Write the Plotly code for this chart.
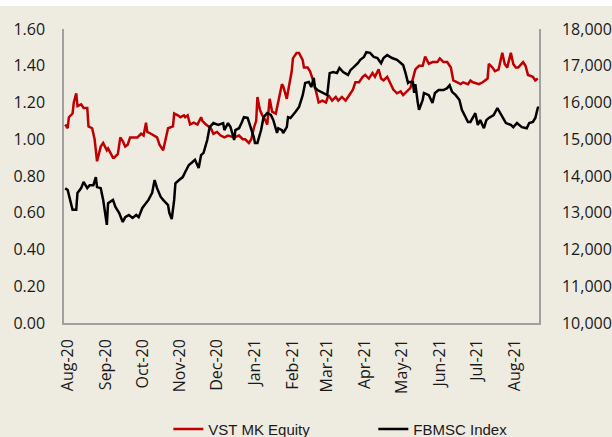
import plotly.graph_objects as go

# VST MK Equity (left axis)
vst_dates = [
    "2020-07-30", "2020-08-01", "2020-08-02", "2020-08-05", "2020-08-06", "2020-08-08", "2020-08-09",
    "2020-08-12", "2020-08-14", "2020-08-17", "2020-08-18", "2020-08-21", "2020-08-23", "2020-08-25",
    "2020-08-28", "2020-08-30", "2020-09-02", "2020-09-03", "2020-09-07", "2020-09-08", "2020-09-11",
    "2020-09-13", "2020-09-15", "2020-09-17", "2020-09-19", "2020-09-21", "2020-09-24", "2020-09-27",
    "2020-09-30", "2020-10-02", "2020-10-04", "2020-10-05", "2020-10-08", "2020-10-10", "2020-10-13",
    "2020-10-15", "2020-10-18", "2020-10-20", "2020-10-22", "2020-10-26", "2020-10-27", "2020-10-30",
    "2020-11-01", "2020-11-04", "2020-11-05", "2020-11-07", "2020-11-09", "2020-11-12", "2020-11-15",
    "2020-11-18", "2020-11-19", "2020-11-22", "2020-11-26", "2020-11-28", "2020-12-01", "2020-12-04",
    "2020-12-07", "2020-12-10", "2020-12-15", "2020-12-19", "2020-12-22", "2020-12-24", "2020-12-27",
    "2020-12-29", "2020-12-31", "2021-01-02", "2021-01-03", "2021-01-05", "2021-01-07", "2021-01-09",
    "2021-01-11", "2021-01-13", "2021-01-15", "2021-01-18", "2021-01-20", "2021-01-23", "2021-01-24",
    "2021-01-27", "2021-01-28", "2021-01-31", "2021-02-01", "2021-02-04", "2021-02-06", "2021-02-09",
    "2021-02-10", "2021-02-13", "2021-02-15", "2021-02-18", "2021-02-21", "2021-02-22", "2021-02-25",
    "2021-02-28", "2021-03-02", "2021-03-05", "2021-03-08", "2021-03-10", "2021-03-13", "2021-03-16",
    "2021-03-18", "2021-03-22", "2021-03-24", "2021-03-27", "2021-03-30", "2021-04-01", "2021-04-04",
    "2021-04-07", "2021-04-09", "2021-04-12", "2021-04-14", "2021-04-16", "2021-04-19", "2021-04-22",
    "2021-04-24", "2021-04-27", "2021-04-30", "2021-05-02", "2021-05-06", "2021-05-08", "2021-05-10",
    "2021-05-12", "2021-05-15", "2021-05-18", "2021-05-20", "2021-05-23", "2021-05-26", "2021-05-30",
    "2021-06-01", "2021-06-04", "2021-06-07", "2021-06-10", "2021-06-12", "2021-06-15", "2021-06-18",
    "2021-06-20", "2021-06-24", "2021-06-26", "2021-06-28", "2021-07-03", "2021-07-06", "2021-07-10",
    "2021-07-11", "2021-07-14", "2021-07-16", "2021-07-19", "2021-07-22", "2021-07-24", "2021-07-26",
    "2021-07-29", "2021-07-31", "2021-08-02", "2021-08-04", "2021-08-08", "2021-08-10", "2021-08-12",
    "2021-08-16", "2021-08-18", "2021-08-20",
]
vst_values = [
    1.08, 1.06, 1.12, 1.14, 1.20, 1.25, 1.18,
    1.19, 1.17, 1.17, 1.07, 1.06, 1.00, 0.88,
    0.96, 0.98, 0.94, 0.95, 0.90, 0.90, 0.92,
    1.01, 0.99, 0.96, 0.97, 1.01, 1.01, 1.01,
    1.03, 1.02, 1.09, 1.04, 1.03, 1.02, 1.01,
    0.97, 0.94, 1.00, 1.06, 1.07, 1.14, 1.13,
    1.12, 1.13, 1.12, 1.13, 1.08, 1.09, 1.08,
    1.12, 1.10, 1.08, 1.06, 1.03, 1.04, 1.02,
    1.01, 1.02, 1.01, 1.02, 1.00, 1.00, 0.98,
    1.00, 1.06, 1.10, 1.23, 1.16, 1.13, 1.11,
    1.08, 1.22, 1.15, 1.14, 1.21, 1.30, 1.29,
    1.22, 1.26, 1.37, 1.44, 1.47, 1.47, 1.43,
    1.39, 1.39, 1.37, 1.31, 1.23, 1.20, 1.21,
    1.20, 1.24, 1.21, 1.23, 1.21, 1.23, 1.21,
    1.23, 1.27, 1.31, 1.31, 1.34, 1.35, 1.33,
    1.36, 1.34, 1.38, 1.33, 1.32, 1.34, 1.30,
    1.27, 1.25, 1.26, 1.24, 1.27, 1.28, 1.33,
    1.38, 1.40, 1.40, 1.45, 1.41, 1.42, 1.42,
    1.44, 1.42, 1.42, 1.39, 1.32, 1.31, 1.30,
    1.31, 1.30, 1.32, 1.31, 1.30, 1.31, 1.33,
    1.41, 1.39, 1.37, 1.38, 1.47, 1.41, 1.39,
    1.47, 1.41, 1.39, 1.39, 1.42, 1.40, 1.35,
    1.34, 1.32, 1.33,
]

# FBMSC Index (right axis)
fbmsc_dates = [
    "2020-07-30", "2020-08-01", "2020-08-03", "2020-08-05", "2020-08-08", "2020-08-09", "2020-08-12",
    "2020-08-14", "2020-08-17", "2020-08-19", "2020-08-22", "2020-08-24", "2020-08-25", "2020-08-28",
    "2020-08-30", "2020-09-01", "2020-09-02", "2020-09-03", "2020-09-07", "2020-09-09", "2020-09-12",
    "2020-09-15", "2020-09-17", "2020-09-20", "2020-09-23", "2020-09-26", "2020-09-28", "2020-10-01",
    "2020-10-04", "2020-10-06", "2020-10-09", "2020-10-11", "2020-10-13", "2020-10-16", "2020-10-18",
    "2020-10-22", "2020-10-23", "2020-10-25", "2020-10-27", "2020-10-28", "2020-10-31", "2020-11-03",
    "2020-11-05", "2020-11-08", "2020-11-11", "2020-11-13", "2020-11-16", "2020-11-18", "2020-11-20",
    "2020-11-23", "2020-11-25", "2020-11-28", "2020-12-02", "2020-12-06", "2020-12-07", "2020-12-10",
    "2020-12-12", "2020-12-15", "2020-12-16", "2020-12-19", "2020-12-21", "2020-12-23", "2020-12-26",
    "2020-12-28", "2020-12-31", "2021-01-01", "2021-01-03", "2021-01-06", "2021-01-08", "2021-01-11",
    "2021-01-14", "2021-01-16", "2021-01-19", "2021-01-20", "2021-01-23", "2021-01-24", "2021-01-27",
    "2021-01-28", "2021-01-30", "2021-02-03", "2021-02-06", "2021-02-09", "2021-02-11", "2021-02-14",
    "2021-02-16", "2021-02-18", "2021-02-19", "2021-02-21", "2021-02-24", "2021-02-26", "2021-03-01",
    "2021-03-03", "2021-03-06", "2021-03-09", "2021-03-11", "2021-03-14", "2021-03-18", "2021-03-20",
    "2021-03-22", "2021-03-26", "2021-03-28", "2021-03-31", "2021-04-02", "2021-04-05", "2021-04-08",
    "2021-04-11", "2021-04-14", "2021-04-16", "2021-04-19", "2021-04-23", "2021-04-27", "2021-04-30",
    "2021-05-02", "2021-05-04", "2021-05-06", "2021-05-07", "2021-05-10", "2021-05-11", "2021-05-12",
    "2021-05-14", "2021-05-15", "2021-05-18", "2021-05-19", "2021-05-23", "2021-05-26", "2021-05-28",
    "2021-05-31", "2021-06-04", "2021-06-07", "2021-06-09", "2021-06-11", "2021-06-14", "2021-06-17",
    "2021-06-19", "2021-06-22", "2021-06-24", "2021-06-26", "2021-06-28", "2021-06-30", "2021-07-02",
    "2021-07-04", "2021-07-07", "2021-07-09", "2021-07-11", "2021-07-15", "2021-07-18", "2021-07-20",
    "2021-07-23", "2021-07-25", "2021-07-29", "2021-07-31", "2021-08-03", "2021-08-07", "2021-08-11",
    "2021-08-13", "2021-08-16", "2021-08-18", "2021-08-20", "2021-08-21",
]
fbmsc_values = [
    13670, 13620, 13350, 13080, 13080, 13540, 13670,
    13840, 13670, 13750, 13750, 13970, 13700, 13670,
    13350, 12800, 12670, 13260, 13350, 13160, 13000,
    12750, 12880, 12940, 12860, 12940, 12880, 13130,
    13260, 13350, 13540, 13890, 13670, 13430, 13350,
    13210, 13000, 12830, 13350, 13800, 13890, 13970,
    14110, 14300, 14380, 14440, 14220, 14570, 14630,
    14980, 15330, 15440, 15390, 15440, 15250, 15440,
    15330, 14980, 15250, 15300, 15440, 15600, 15580,
    15390, 15060, 14900, 14900, 15250, 15600, 15710,
    15660, 15520, 15170, 15300, 15250, 15170, 15330,
    15600, 15580, 15740, 15880, 16200, 16530, 16560,
    16420, 16670, 16400, 16340, 16290, 16260, 16200,
    16800, 16830, 16800, 16940, 16830, 16750, 16880,
    16940, 17070, 17160, 17240, 17370, 17350, 17240,
    17210, 17070, 17210, 17290, 17210, 17160, 17070,
    17020, 16800, 16530, 16560, 16560, 16260, 16500,
    15990, 15800, 16070, 16260, 16200, 15990, 16260,
    16340, 16340, 16390, 16470, 16290, 16200, 16070,
    15800, 15610, 15470, 15470, 15610, 15710, 15390,
    15520, 15300, 15520, 15580, 15660, 15850, 15740,
    15580, 15440, 15390, 15330, 15440, 15330, 15300,
    15440, 15470, 15580, 15850, 15880,
]

series_names = ["VST MK Equity", "FBMSC Index"]
left_ticks = [0.0, 0.2, 0.4, 0.6, 0.8, 1.0, 1.2, 1.4, 1.6]
right_ticks = [10000, 11000, 12000, 13000, 14000, 15000, 16000, 17000, 18000]

BG = "#EEEBE1"
AXIS = "#A0A0A0"
TXT = "#1a1a1a"
FONT = "Open Sans"

fig = go.Figure()
fig.add_trace(go.Scatter(x=vst_dates, y=vst_values, name=series_names[0], mode="lines",
                         line=dict(color="#C00000", width=2.5), yaxis="y"))
fig.add_trace(go.Scatter(x=fbmsc_dates, y=fbmsc_values, name=series_names[1], mode="lines",
                         line=dict(color="#000000", width=2.5), yaxis="y2"))

fig.update_layout(
    width=612, height=437,
    margin=dict(l=64, r=73, t=29, b=114, pad=0, autoexpand=False),
    paper_bgcolor=BG, plot_bgcolor=BG,
    showlegend=True,
    legend=dict(orientation="h", xref="container", yref="container", x=0.61, xanchor="center",
                y=0.018, yanchor="middle", font=dict(family="Liberation Sans", size=15, color=TXT),
                bgcolor="rgba(0,0,0,0)", traceorder="normal", entrywidth=160),
    xaxis=dict(type="date", range=["2020-07-29", "2021-08-21"], tick0="2020-08-01", dtick="M1",
               tickformat="%b-%y", tickangle=-90, showgrid=False, zeroline=False, automargin=False,
               showline=True, linecolor=AXIS, linewidth=1.5, ticks="", ticklabelstandoff=8,
               tickfont=dict(family=FONT, size=16, color=TXT)),
    yaxis=dict(range=[0, 1.6], tickvals=left_ticks, tickformat=".2f", showgrid=False, zeroline=False,
               showline=True, linecolor=AXIS, linewidth=1.5, ticks="", ticklabelstandoff=14,
               automargin=False, tickfont=dict(family=FONT, size=16, color=TXT)),
    yaxis2=dict(range=[10000, 18000], tickvals=right_ticks, tickformat=",", overlaying="y", side="right",
                showgrid=False, zeroline=False, showline=True, linecolor=AXIS, linewidth=1.5,
                automargin=False, ticks="", ticklabelstandoff=18,
                tickfont=dict(family=FONT, size=16, color=TXT)),
    shapes=[dict(type="rect", xref="paper", yref="paper", x0=-0.2, x1=1.2, y0=1.078, y1=1.2,
                 fillcolor="white", line=dict(width=0), layer="above")],
)

fig.write_html("out.html", config={"displayModeBar": False},
               post_script="document.body.style.margin='0px';")
